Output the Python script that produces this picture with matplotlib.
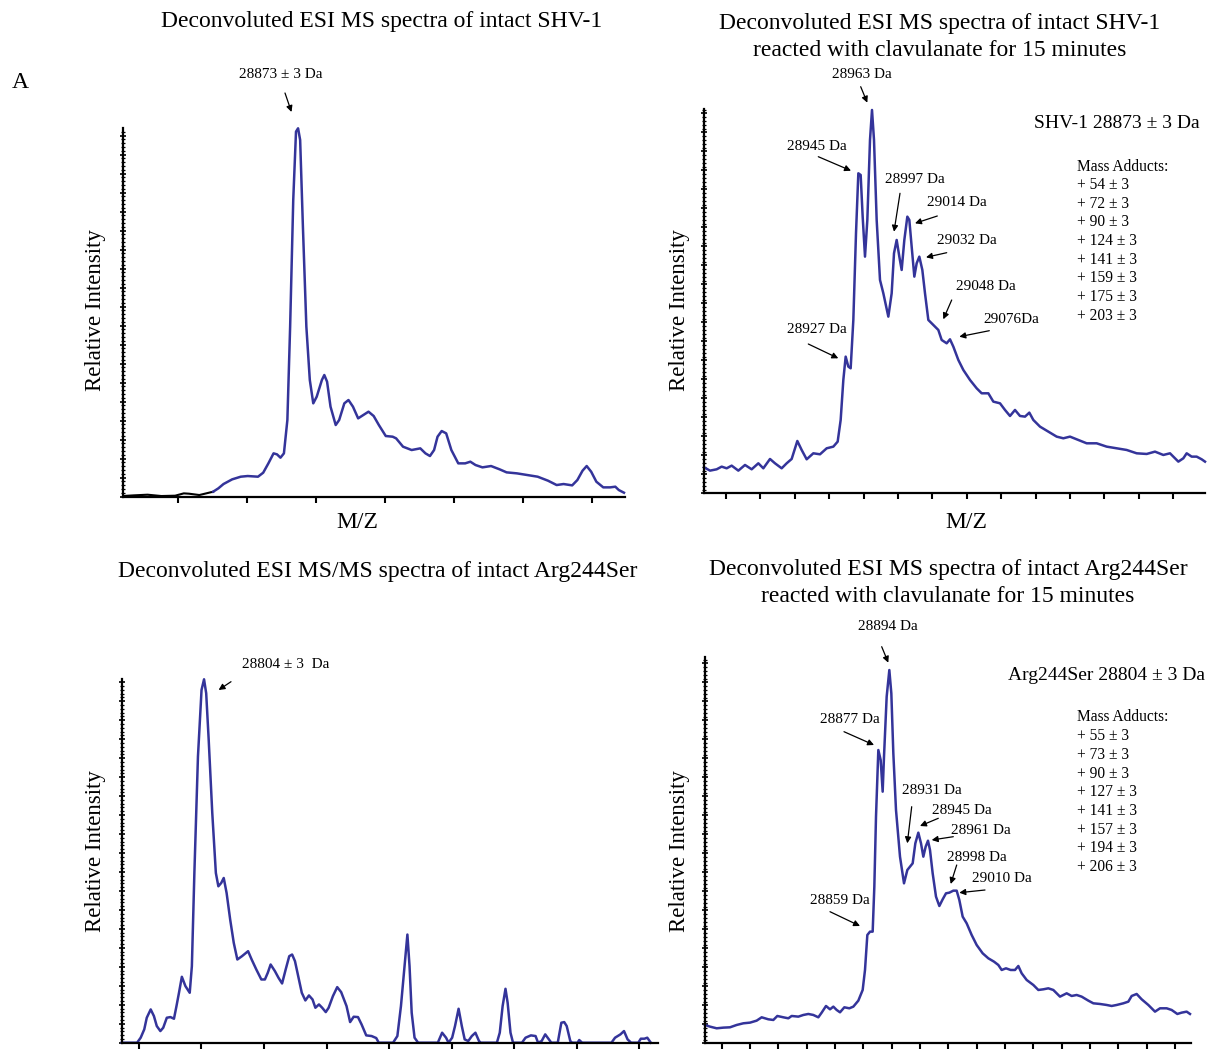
import matplotlib
matplotlib.use("Agg")
import matplotlib.pyplot as plt
from matplotlib.ticker import MultipleLocator, FixedLocator
import numpy as np

plt.rcParams['font.family'] = ['Liberation Serif', 'DejaVu Serif']

# Top-left: intact SHV-1
shv_x = [0, 32, 72, 112, 152, 177, 192, 222, 242, 262,
         277, 292, 317, 342, 362, 392, 407, 422, 437, 447, 457, 467, 477, 485, 494, 502, 508, 514,
         522, 532, 542, 552, 562, 577, 584, 592, 602, 617, 627, 642, 654, 667, 682, 697, 712, 727,
         742, 762, 782, 792, 812, 837, 862, 877, 890, 902, 912, 924, 937, 952, 972, 992, 1007, 1022,
         1042, 1067, 1092, 1112, 1142, 1172, 1202, 1232, 1257, 1277, 1302, 1317, 1332, 1344, 1357,
         1372, 1392, 1412, 1427, 1437, 1452]
shv_y = [2, 4, 6, 2, 3, 10, 9, 5, 10, 15,
         25, 38, 52, 60, 62, 60, 72, 100, 130, 127, 117, 130, 230, 510, 890, 1095, 1105, 1070,
         810, 510, 350, 280, 300, 350, 365, 345, 270, 215, 230, 280, 290, 270, 235, 245, 255, 242,
         215, 182, 180, 175, 150, 140, 145, 130, 122, 140, 180, 197, 190, 140, 100, 100, 105, 95,
         88, 92, 82, 73, 70, 65, 60, 48, 35, 38, 34, 50, 78, 92, 75,
         45, 28, 28, 30, 20, 12]
shv_black_end = 262   # first part of the trace is drawn in black

# Top-right: SHV-1 + clavulanate, 15 min
shvc_x = [0, 18, 38, 53, 68, 83, 103, 123, 143, 163, 178, 198, 213, 233, 248, 263, 280, 293, 308,
          328, 348, 368, 388, 401, 410, 418, 425, 433, 440, 448, 456, 463, 470, 476, 483, 490, 498,
          504, 510, 518, 528, 538, 553, 563, 570, 578, 586, 593, 601, 610, 616, 623, 631, 638, 646,
          655, 663, 673, 688, 703, 713, 728, 738, 748, 763, 778, 798, 818, 833, 853, 868, 888, 903,
          918, 933, 948, 963, 976, 988, 1008, 1033, 1058, 1078, 1098, 1123, 1148, 1178, 1208, 1238,
          1268, 1298, 1328, 1353, 1378, 1398, 1423, 1438, 1448, 1463, 1478, 1493, 1503]
shvc_y = [78, 68, 72, 80, 75, 83, 68, 85, 72, 90, 75, 103, 90, 75, 90, 103, 157, 130, 102,
          120, 117, 135, 140, 155, 220, 340, 410, 380, 375, 520, 780, 960, 955, 830, 710, 820, 1060,
          1150, 1060, 820, 640, 600, 530, 600, 720, 760, 710, 670, 760, 830, 820, 740, 650, 690, 710,
          670, 600, 520, 505, 490, 460, 450, 462, 440, 400, 370, 340, 315, 300, 300, 275, 270, 250,
          232, 250, 232, 230, 242, 220, 200, 185, 170, 165, 170, 160, 150, 150, 140, 135,
          130, 120, 118, 125, 115, 120, 95, 105, 120, 110, 110, 102, 95]

# Bottom-left: intact Arg244Ser
arg_x = [0, 43, 53, 63, 70, 81, 90, 98, 108, 116, 126, 136, 146, 153, 160, 168, 178, 190, 196, 203,
         213, 223, 230, 236, 243, 253, 263, 270, 278, 285, 293, 303, 313, 323, 336, 353, 363, 376,
         390, 400, 408, 416, 428, 438, 448, 458, 468, 476, 484, 493, 503, 513, 523, 533, 541, 551,
         560, 570, 578, 590, 602, 613, 628, 638, 648, 660, 670, 683, 698, 711, 718, 758, 770, 780,
         790, 798, 804, 810, 818, 828, 883, 895, 906, 913, 923, 931, 941, 950, 958, 968, 978, 988,
         998, 1003, 1048, 1056, 1064, 1072, 1078, 1086, 1093, 1118, 1128, 1143, 1156, 1163, 1173,
         1183, 1193, 1200, 1218, 1228, 1236, 1243, 1253, 1258, 1273, 1278, 1286, 1368, 1378, 1393,
         1403, 1413, 1423, 1443, 1450, 1460, 1468, 1478]
arg_y = [0, 0, 15, 40, 75, 100, 80, 50, 35, 45, 75, 77, 72, 110, 150, 198, 170, 150, 230, 510,
         860, 1060, 1092, 1050, 910, 690, 510, 470, 480, 495, 450, 370, 300, 250, 260, 275, 250, 220,
         190, 190, 210, 235, 215, 195, 178, 220, 260, 265, 245, 200, 150, 127, 142, 130, 105, 115,
         105, 92, 105, 140, 167, 152, 110, 62, 78, 77, 55, 22, 20, 14, 0, 0, 20, 110,
         230, 325, 230, 90, 15, 0, 0, 30, 15, 0, 15, 50, 102, 50, 10, 5, 20, 30,
         5, 0, 0, 30, 110, 162, 120, 30, 0, 0, 15, 22, 20, 0, 5,
         25, 10, 0, 0, 60, 62, 50, 5, 0, 0, 8, 0, 0, 15, 25,
         35, 10, 0, 0, 12, 12, 15, 0]

# Bottom-right: Arg244Ser + clavulanate, 15 min
argc_x = [0, 15, 35, 55, 75, 95, 115, 135, 155, 170, 190, 205, 217, 235, 250, 260, 280, 295, 310,
          325, 340, 350, 363, 375, 385, 395, 405, 418, 433, 445, 460, 473, 480, 487, 495, 503, 508,
          513, 520, 527, 533, 537, 545, 553, 559, 565, 573, 585, 597, 607, 615, 623, 631, 640, 648,
          655, 662, 669, 675, 683, 693, 703, 713, 723, 733, 745, 755, 763, 773, 785, 800, 815, 833,
          850, 867, 880, 890, 903, 917, 930, 940, 950, 965, 985, 1000, 1015, 1030, 1045, 1065, 1085,
          1100, 1115, 1130, 1150, 1165, 1185, 1205, 1220, 1235, 1255, 1270, 1280, 1295, 1310, 1330,
          1350, 1365, 1385, 1400, 1417, 1430, 1445, 1455]
argc_y = [55, 50, 45, 47, 48, 55, 60, 62, 68, 78, 72, 70, 82, 78, 75, 82, 80, 85, 88,
          85, 78, 92, 112, 102, 110, 100, 93, 108, 105, 110, 128, 160, 220, 325, 335, 335, 470,
          680, 880, 850, 755, 860, 1040, 1120, 1050, 870, 700, 560, 480, 520, 530, 540, 600, 632, 600,
          560, 590, 608, 580, 510, 440, 412, 432, 450, 452, 458, 458, 430, 380, 360, 325, 295, 270,
          255, 245, 235, 220, 225, 220, 220, 232, 210, 190, 175, 160, 162, 165, 160, 140, 150,
          142, 145, 140, 128, 120, 118, 115, 112, 115, 120, 125, 142, 148, 132, 115,
          95, 105, 105, 100, 88, 92, 95, 88]

# annotation texts
title_tl = "Deconvoluted ESI MS spectra of intact SHV-1"
title_tr = "Deconvoluted ESI MS spectra of intact SHV-1\nreacted with clavulanate for 15 minutes"
title_bl = "Deconvoluted ESI MS/MS spectra of intact Arg244Ser"
title_br = "Deconvoluted ESI MS spectra of intact Arg244Ser\nreacted with clavulanate for 15 minutes"
adducts_tr = ["+ 54 ± 3", "+ 72 ± 3", "+ 90 ± 3", "+ 124 ± 3", "+ 141 ± 3", "+ 159 ± 3", "+ 175 ± 3", "+ 203 ± 3"]
adducts_br = ["+ 55 ± 3", "+ 73 ± 3", "+ 90 ± 3", "+ 127 ± 3", "+ 141 ± 3", "+ 157 ± 3", "+ 194 ± 3", "+ 206 ± 3"]

# ---------------- figure ----------------
W, H = 1208, 1050
fig = plt.figure(figsize=(W / 100, H / 100), dpi=100)
BLUE = '#34349a'


def fpos(px, py):
    return (px / W, 1 - py / H)


def make_ax(left, top, right, bottom, xmax, ymax, xt0, xstep, nticks):
    ax = fig.add_axes([left / W, 1 - bottom / H, (right - left) / W, (bottom - top) / H])
    ax.set_xlim(0, xmax)
    ax.set_ylim(0, ymax)
    for s in ('top', 'right'):
        ax.spines[s].set_visible(False)
    for s in ('left', 'bottom'):
        ax.spines[s].set_linewidth(1.6)
        ax.spines[s].set_color('black')
    ax.xaxis.set_major_locator(FixedLocator([xt0 + k * xstep for k in range(nticks)]))
    ax.yaxis.set_major_locator(MultipleLocator(57))
    ax.yaxis.set_minor_locator(MultipleLocator(11.4))
    ax.tick_params(axis='x', which='major', direction='out', length=4, width=1.5, labelbottom=False)
    ax.tick_params(axis='y', which='major', direction='inout', length=5, width=1.2, labelleft=False)
    ax.tick_params(axis='y', which='minor', direction='inout', length=3, width=0.9)
    ax.patch.set_alpha(0)
    return ax


def arrow(tail, head):
    fig.add_artist(matplotlib.patches.FancyArrowPatch(
        fpos(*tail), fpos(*head), transform=fig.transFigure,
        arrowstyle='-|>', mutation_scale=9, color='black', lw=0.9,
        shrinkA=0, shrinkB=0))


def label(px, py, s, size=11, ha='center'):
    x, y = fpos(px, py)
    fig.text(x, y, s, ha=ha, va='center', fontsize=size)


# Top-left
ax1 = make_ax(122.7, 128.3, 625, 496.7, 1455, 1105, 160, 200, 7)
sx = np.array(shv_x); sy = np.array(shv_y)
mb = sx <= shv_black_end
ax1.plot(sx[mb], sy[mb], color='black', lw=1.5, solid_joinstyle='round')
mblue = sx >= shv_black_end
ax1.plot(sx[mblue], sy[mblue], color=BLUE, lw=1.8, solid_joinstyle='round', clip_on=False)

# Top-right
ax2 = make_ax(704, 109.3, 1205, 493.3, 1503, 1152, 66, 103.2, 14)
ax2.plot(shvc_x, shvc_y, color=BLUE, lw=1.8, solid_joinstyle='round', clip_on=False)

# Bottom-left
ax3 = make_ax(121.7, 679.3, 658, 1042.7, 1498, 1092, 48, 174.75, 9)
ax3.plot(arg_x, arg_y, color=BLUE, lw=1.8, solid_joinstyle='round', clip_on=False)

# Bottom-right
ax4 = make_ax(705, 656.7, 1191, 1043.3, 1458, 1160, 50, 85, 17)
ax4.plot(argc_x, argc_y, color=BLUE, lw=1.8, solid_joinstyle='round', clip_on=False)

# titles
TS = 17
label(382, 22, title_tl, TS)
fig.text(*fpos(940, 37), title_tr, ha='center', va='center', fontsize=TS, linespacing=1.38)
label(378, 571, title_bl, TS)
fig.text(*fpos(948, 583), title_br, ha='center', va='center', fontsize=TS, linespacing=1.38)
label(20, 82, "A", 17)

# axis labels
for (px, py) in [(95, 310), (680, 310), (95, 851), (680, 851)]:
    x, y = fpos(px, py)
    fig.text(x, y, "Relative Intensity", rotation=90, ha='center', va='center', fontsize=16.5)
label(357, 523, "M/Z", 17)
label(966, 523, "M/Z", 17)

# Top-left annotation
label(281, 75, "28873 ± 3 Da", 11)
arrow((285, 93), (291.5, 112))

# Top-right annotations
label(1117, 123, "SHV-1 28873 ± 3 Da", 14)
label(1076.7, 166.7, "Mass Adducts:", 11.2, ha='left')
for i, s in enumerate(adducts_tr):
    label(1076.7, 185 + i * 18.7, s, 11.2, ha='left')
tr_ann = [("28963 Da", (862, 75), (860.7, 86.7), (867.3, 102.7)),
          ("28945 Da", (817, 146), (818.3, 156.7), (851, 170.7)),
          ("28997 Da", (915, 179.3), (900, 193.3), (894, 231.7)),
          ("29014 Da", (957, 202.7), (937.3, 216), (915, 223.3)),
          ("29032 Da", (967.3, 240), (946.7, 252.7), (926, 257.3)),
          ("29048 Da", (986, 286.7), (951.7, 300), (943.3, 319.3)),
          ("29076Da", (1011.7, 319.3), (989.3, 330.7), (959.3, 336.7)),
          ("28927 Da", (816.7, 329.3), (808.3, 344), (838.3, 358.3))]
for s, tp, tail, head in tr_ann:
    label(*tp, s, 11)
    arrow(tail, head)

# Bottom-left annotation
label(286, 665, "28804 ± 3  Da", 11)
arrow((231, 681.7), (218.6, 690))

# Bottom-right annotations
label(1107, 675, "Arg244Ser 28804 ± 3 Da", 14)
label(1076.7, 717.3, "Mass Adducts:", 11.2, ha='left')
for i, s in enumerate(adducts_br):
    label(1076.7, 736 + i * 18.75, s, 11.2, ha='left')
br_ann = [("28894 Da", (888.3, 626.7), (881.7, 646.7), (888.3, 662.7)),
          ("28877 Da", (850, 719.3), (844, 731.7), (874, 745)),
          ("28931 Da", (931.7, 790), (911.7, 806.7), (907.3, 843.3)),
          ("28945 Da", (961.7, 810), (938.3, 818.3), (920, 826)),
          ("28961 Da", (981, 830.7), (953.3, 836.7), (931.7, 840)),
          ("28998 Da", (977.3, 857.3), (956.7, 865), (950.7, 884)),
          ("29010 Da", (1001.7, 878.3), (985, 890), (959.3, 892.7)),
          ("28859 Da", (840, 900), (830, 911.7), (860, 926))]
for s, tp, tail, head in br_ann:
    label(*tp, s, 11)
    arrow(tail, head)

fig.savefig("out.png", dpi=100)
